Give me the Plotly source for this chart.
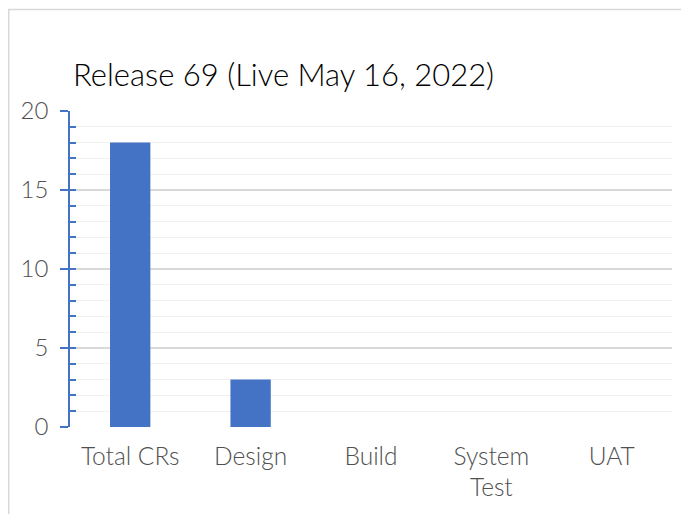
import plotly.graph_objects as go

categories = ["Total CRs", "Design", "Build", "System<br>Test", "UAT"]
values = [18, 3, 0, 0, 0]
title_text = "Release 69 (Live May 16, 2022)"
y_ticks = [0, 5, 10, 15, 20]

# the page adds an 8px body margin, so the figure is sized to fill the rest
OFF = 8
W, H = 689 - OFF, 514 - OFF
ml, mr, mt, mb = 70 - OFF, 689 - 672, 111 - OFF, 514 - 427
pw = W - ml - mr
ph = H - mt - mb

FONT = "Lato"
BLUE = "#4472C4"

fig = go.Figure()
fig.add_trace(go.Bar(x=categories, y=values, marker=dict(color=BLUE, line=dict(width=0)),
                     hoverinfo="x+y"))
# invisible trace to carry the overlay axis with inside ticks
fig.add_trace(go.Scatter(x=categories, y=values, yaxis="y2", mode="markers",
                         marker=dict(opacity=0), hoverinfo="skip", showlegend=False))

def px_x(px):
    return (px - OFF - ml) / pw

def px_y(py):
    return (H - mb - (py - OFF)) / ph

fig.update_layout(
    width=W, height=H,
    margin=dict(l=ml, r=mr, t=mt, b=mb, pad=0),
    paper_bgcolor="white", plot_bgcolor="white",
    showlegend=False,
    bargap=0.665,
    font=dict(family=FONT, color="#595959"),
    title=dict(text=title_text, xref="container", yref="container",
               x=(73 - OFF) / W, xanchor="left", y=1 - (75 - OFF) / H, yanchor="middle",
               font=dict(family=FONT, size=31, color="#000000", weight=300)),
    xaxis=dict(
        showline=False, ticks="", showgrid=False, zeroline=False,
        tickfont=dict(size=24.5, color="#505050", weight=300),
        ticklabelstandoff=12,
        fixedrange=True,
    ),
    yaxis=dict(
        range=[0, 20], tickvals=y_ticks, ticktext=[str(v) for v in y_ticks],
        showline=True, linecolor=BLUE, linewidth=1.5,
        ticks="outside", ticklen=8, tickwidth=1.5, tickcolor=BLUE,
        showgrid=True, gridcolor="#D9D9D9", gridwidth=1.5,
        zeroline=False,
        minor=dict(dtick=1, showgrid=True, gridcolor="#F0F0F0", gridwidth=1.2),
        tickfont=dict(size=24, color="#505050", weight=300),
        ticklabelstandoff=7,
        fixedrange=True,
    ),
    yaxis2=dict(
        overlaying="y", side="left", range=[0, 20], dtick=1, tick0=0,
        ticks="inside", ticklen=6, tickwidth=1.5, tickcolor=BLUE,
        showticklabels=False, showgrid=False, zeroline=False, showline=False,
        fixedrange=True,
    ),
    shapes=[
        dict(type="rect", xref="paper", yref="paper",
             x0=px_x(8.75), x1=px_x(689 + 10), y0=px_y(514 + 10), y1=px_y(9.5),
             line=dict(color="#D9D9D9", width=1.5), fillcolor="rgba(0,0,0,0)", layer="below"),
    ],
)

fig.write_html("out.html")
